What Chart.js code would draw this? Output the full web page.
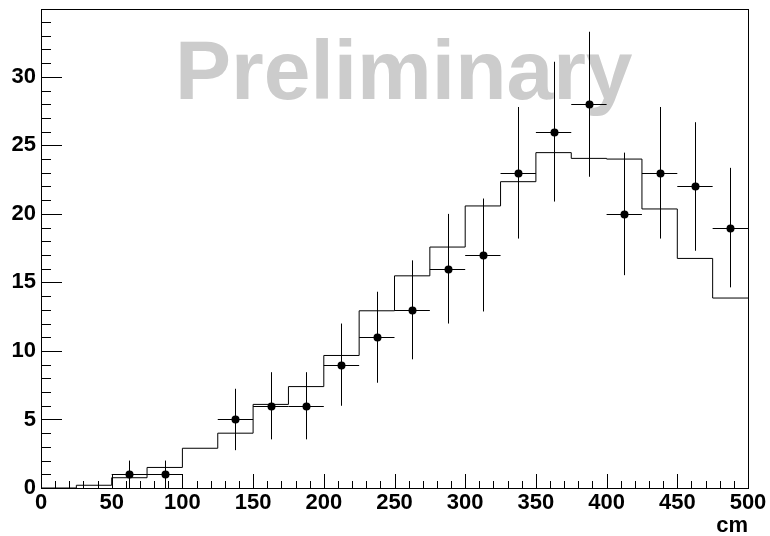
<!DOCTYPE html>
<html>
<head>
<meta charset="utf-8">
<script src="https://cdn.jsdelivr.net/npm/chart.js@4/dist/chart.umd.min.js"></script>
<style>
  html, body { margin: 0; padding: 0; background: #fff; }
  #wrap { width: 770px; height: 536px; }
</style>
</head>
<body>
<div id="wrap"><canvas id="c" width="770" height="536"></canvas></div>
<script>
// ---- data ----
const binCenters = [12.5, 37.5, 62.5, 87.5, 112.5, 137.5, 162.5, 187.5, 212.5, 237.5,
                    262.5, 287.5, 312.5, 337.5, 362.5, 387.5, 412.5, 437.5, 462.5, 487.5];
const binHalfWidth = 12.5;
const dataCounts = [0, 0, 1, 1, 0, 5, 6, 6, 9, 11, 13, 16, 17, 23, 26, 28, 20, 23, 22, 19];
const dataErrors = [0, 0, 1, 1, 0, 2.24, 2.45, 2.45, 3, 3.32, 3.61, 4, 4.12, 4.8, 5.1, 5.29, 4.47, 4.8, 4.69, 4.36];
const mcValues = [0, 0.2, 0.75, 1.5, 2.9, 4.0, 6.1, 7.4, 9.67, 12.93,
                  15.48, 17.58, 20.58, 22.35, 24.47, 24.05, 24.0, 20.36, 16.75, 13.86];
const xTicks = [0, 50, 100, 150, 200, 250, 300, 350, 400, 450, 500];
const yTicks = [0, 5, 10, 15, 20, 25, 30];
const xRange = [0, 500];
const yRange = [0, 34.95];
const xAxisLabel = 'cm';
const watermarkText = 'Preliminary';

// step histogram points (bin low edges + final upper edge)
const mcPoints = binCenters.map((c, i) => ({ x: c - binHalfWidth, y: mcValues[i] }));
mcPoints.push({ x: binCenters[binCenters.length - 1] + binHalfWidth, y: mcValues[mcValues.length - 1] });

const dataPoints = binCenters.map((c, i) => dataCounts[i] > 0 ? { x: c, y: dataCounts[i], e: dataErrors[i] } : null)
  .filter(p => p !== null);

const FONT = '"Liberation Sans", Arial, Helvetica, sans-serif';

const rootStyle = {
  id: 'rootStyle',
  beforeDatasetsDraw(chart) {
    const ctx = chart.ctx;
    ctx.save();
    ctx.fillStyle = '#cccccc';
    ctx.font = 'bold 84px ' + FONT;
    ctx.textBaseline = 'alphabetic';
    ctx.textAlign = 'left';
    ctx.fillText(watermarkText, 175, 99);
    ctx.restore();
  },
  afterDatasetsDraw(chart) {
    const ctx = chart.ctx;
    const xs = chart.scales.x, ys = chart.scales.y;
    const a = chart.chartArea;
    ctx.save();
    // error bars
    ctx.strokeStyle = '#000';
    ctx.lineWidth = 1;
    ctx.beginPath();
    dataPoints.forEach(p => {
      const px = xs.getPixelForValue(p.x);
      const py = ys.getPixelForValue(p.y);
      const x0 = xs.getPixelForValue(p.x - binHalfWidth);
      const x1 = xs.getPixelForValue(p.x + binHalfWidth);
      const yTop = ys.getPixelForValue(p.y + p.e);
      const yBot = ys.getPixelForValue(p.y - p.e);
      ctx.moveTo(Math.round(px) + 0.5, yTop);
      ctx.lineTo(Math.round(px) + 0.5, yBot);
      ctx.moveTo(x0, Math.round(py) + 0.5);
      ctx.lineTo(x1, Math.round(py) + 0.5);
    });
    ctx.stroke();
    // markers
    ctx.fillStyle = '#000';
    dataPoints.forEach(p => {
      const px = xs.getPixelForValue(p.x);
      const py = ys.getPixelForValue(p.y);
      ctx.beginPath();
      ctx.arc(Math.round(px) + 0.5, Math.round(py) + 0.5, 4, 0, Math.PI * 2);
      ctx.fill();
    });
    // frame
    ctx.strokeStyle = '#000';
    ctx.lineWidth = 1;
    ctx.strokeRect(Math.round(a.left) + 0.5, Math.round(a.top) + 0.5,
                   Math.round(a.right - a.left), Math.round(a.bottom - a.top));
    // ticks (inside)
    ctx.beginPath();
    for (let v = xRange[0]; v <= xRange[1] + 1e-9; v += 10) {
      const px = Math.round(xs.getPixelForValue(v)) + 0.5;
      const major = Math.abs(v % 50) < 1e-9;
      ctx.moveTo(px, a.bottom);
      ctx.lineTo(px, a.bottom - (major ? 14 : 7));
    }
    for (let v = 0; v <= yRange[1] + 1e-9; v += 1) {
      const py = Math.round(ys.getPixelForValue(v)) + 0.5;
      const major = v % 5 === 0;
      ctx.moveTo(a.left, py);
      ctx.lineTo(a.left + (major ? 21 : 10), py);
    }
    ctx.stroke();
    ctx.restore();
  }
};

new Chart(document.getElementById('c'), {
  type: 'scatter',
  data: {
    datasets: [
      {
        type: 'line',
        label: 'MC',
        data: mcPoints,
        stepped: 'before',
        borderColor: '#000',
        borderWidth: 1,
        pointRadius: 0,
        fill: false
      }
    ]
  },
  options: {
    responsive: false,
    animation: false,
    events: [],
    layout: { padding: { top: 9, right: 22, left: 0, bottom: 0 } },
    plugins: { legend: { display: false }, tooltip: { enabled: false } },
    scales: {
      x: {
        type: 'linear',
        min: xRange[0], max: xRange[1],
        grid: { display: false, drawTicks: false },
        border: { display: false },
        afterBuildTicks(s) { s.ticks = xTicks.map(v => ({ value: v })); },
        afterFit(s) { s.height = 48; s.paddingLeft = 0; s.paddingRight = 0; },
        ticks: {
          color: '#000',
          font: { family: FONT, size: 22, weight: 'bold' },
          padding: 2,
          maxRotation: 0,
          autoSkip: false
        },
        title: {
          display: true,
          text: xAxisLabel,
          align: 'end',
          color: '#000',
          font: { family: FONT, size: 22, weight: 'bold' },
          padding: { top: 0, bottom: -3 }
        }
      },
      y: {
        type: 'linear',
        min: yRange[0], max: yRange[1],
        grid: { display: false, drawTicks: false },
        border: { display: false },
        afterBuildTicks(s) { s.ticks = yTicks.map(v => ({ value: v })); },
        afterFit(s) { s.width = 41; s.paddingTop = 0; s.paddingBottom = 0; },
        ticks: {
          color: '#000',
          font: { family: FONT, size: 22, weight: 'bold' },
          padding: 5,
          autoSkip: false
        }
      }
    }
  },
  plugins: [rootStyle]
});
</script>
</body>
</html>
